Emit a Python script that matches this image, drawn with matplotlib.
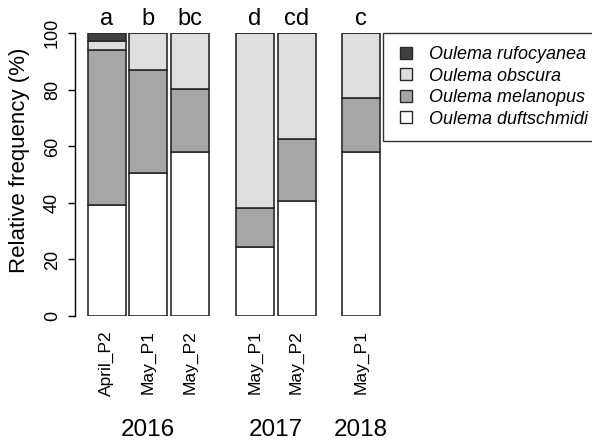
import matplotlib
matplotlib.use("Agg")
import matplotlib.pyplot as plt
from matplotlib.lines import Line2D
import numpy as np

plt.rcParams['font.family'] = ['Liberation Sans', 'DejaVu Sans']

# samples per year, percentages of each species (bottom to top)
samples = ["April_P2", "May_P1", "May_P2", "May_P1", "May_P2", "May_P1"]
years = ["2016", "2017", "2018"]
year_groups = [[0, 1, 2], [3, 4], [5]]
letters = ["a", "b", "bc", "d", "cd", "c"]

duftschmidi = [39.3, 50.7, 58.1, 24.3, 40.7, 58.1]
melanopus = [54.8, 36.3, 22.1, 13.9, 21.9, 19.0]
obscura = [3.3, 13.0, 19.8, 61.8, 37.4, 22.9]
rufocyanea = [2.6, 0.0, 0.0, 0.0, 0.0, 0.0]

species = ["Oulema rufocyanea", "Oulema obscura", "Oulema melanopus", "Oulema duftschmidi"]
colors = ["#404040", "#dedede", "#a6a6a6", "#ffffff"]

# barplot-style spacing: 0.1 between bars, 0.7 between years
space = [0.1, 0.1, 0.1, 0.7, 0.1, 0.7]
xpos = []
edge = 0.0
for s in space:
    edge += s
    xpos.append(edge + 0.5)
    edge += 1.0
xpos = np.array(xpos)

W, H = 592, 441
fig = plt.figure(figsize=(W / 100, H / 100), dpi=100)
ax = fig.add_axes([75 / W, 1 - 316 / H, (383 - 75) / W, (316 - 33.3) / H])

stack = [duftschmidi, melanopus, obscura, rufocyanea]
bottom = np.zeros(len(samples))
for vals, col in zip(stack, colors[::-1]):
    vals = np.array(vals)
    ax.bar(xpos, vals, width=1.0, bottom=bottom, color=col,
           edgecolor="#2a2a2a", linewidth=1.2)
    bottom += vals

ax.set_xlim(-0.229, 7.876)
ax.set_ylim(0, 100)
for sp in ["top", "right", "bottom"]:
    ax.spines[sp].set_visible(False)
ax.spines["left"].set_bounds(0, 100)
ax.spines["left"].set_linewidth(1.0)

ax.set_yticks([0, 20, 40, 60, 80, 100])
ax.tick_params(axis="y", length=5, width=1.0, pad=5, labelsize=13)
for lab in ax.get_yticklabels():
    lab.set_rotation(90)
    lab.set_va("center")

ax.set_xticks(xpos)
ax.set_xticklabels(samples, rotation=90, fontsize=12.5)
ax.tick_params(axis="x", length=0, pad=10)

for x, let in zip(xpos, letters):
    ax.text(x, 101.1, let, ha="center", va="bottom", fontsize=17, clip_on=False)

for yr, grp in zip(years, year_groups):
    xc = xpos[grp].mean()
    ax.text(xc, -40.5, yr, ha="center", va="center", fontsize=17.5,
            transform=ax.transData, clip_on=False)

fig.text(20 / W, 1 - 160 / H, "Relative frequency (%)", rotation=90,
         ha="center", va="center", fontsize=16)

handles = [Line2D([], [], linestyle="None", marker="s", markersize=8.5,
                  markerfacecolor=c, markeredgecolor="#2a2a2a", markeredgewidth=1.0)
           for c in colors]
leg = fig.legend(handles, species, loc="upper left", numpoints=1,
                 bbox_to_anchor=(383 / W, 1 - 33 / H),
                 frameon=True, fancybox=False, edgecolor="black",
                 prop={"style": "italic", "size": 13},
                 handlelength=1.1, handletextpad=0.72,
                 labelspacing=0.25, borderpad=0.73, borderaxespad=0)
leg.get_frame().set_linewidth(1.0)

fig.savefig("out.png", dpi=100)
